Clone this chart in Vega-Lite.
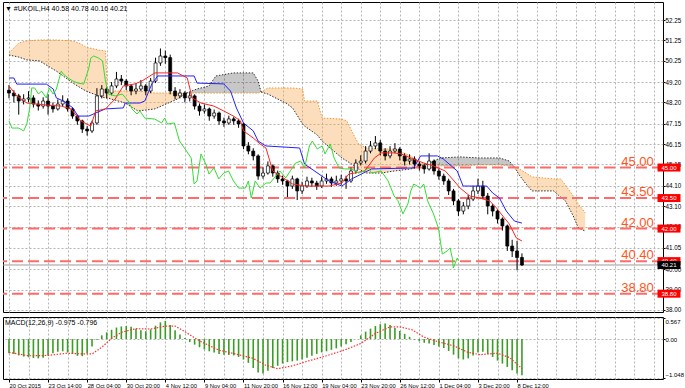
{
"$schema": "https://vega.github.io/schema/vega-lite/v6.json",
"background": "#ffffff",
"padding": {"left": 1, "top": 1, "right": 0, "bottom": 0},
"spacing": 2,
"config": {
  "font": "Liberation Sans",
  "view": {"stroke": "#000000", "strokeWidth": 1},
  "axis": {"gridColor": "#b4b4b4", "gridDash": [2, 2], "gridWidth": 1, "labelFont": "Liberation Sans", "labelFontSize": 6.3, "labelColor": "#000000", "tickColor": "#000000", "tickSize": 2, "domain": false, "labelOverlap": false},
  "title": {"font": "Liberation Sans", "fontSize": 7, "fontWeight": "normal", "color": "#000000"}
},
"datasets": {
  "candles": [
{"t":0,"o":48.80,"h":49.05,"l":48.40,"c":48.66},{"t":2,"o":48.66,"h":48.80,"l":48.20,"c":48.52},{"t":4,"o":48.52,"h":48.62,"l":47.60,"c":48.27},{"t":6,"o":48.27,"h":48.60,"l":48.10,"c":48.37},{"t":8,"o":48.37,"h":48.75,"l":48.20,"c":48.42},{"t":10,"o":48.42,"h":48.55,"l":47.95,"c":48.12},{"t":12,"o":48.12,"h":48.30,"l":47.80,"c":48.02},{"t":14,"o":48.02,"h":48.45,"l":47.90,"c":48.27},{"t":16,"o":48.27,"h":48.60,"l":47.60,"c":48.02},{"t":18,"o":48.02,"h":48.20,"l":47.70,"c":47.88},{"t":20,"o":47.88,"h":48.35,"l":47.80,"c":48.12},{"t":22,"o":48.12,"h":48.55,"l":48.00,"c":48.27},{"t":24,"o":48.27,"h":48.40,"l":47.75,"c":47.88},{"t":26,"o":47.88,"h":47.95,"l":47.40,"c":47.53},{"t":28,"o":47.53,"h":47.60,"l":47.10,"c":47.29},{"t":30,"o":47.29,"h":47.35,"l":46.70,"c":46.89},{"t":32,"o":46.89,"h":47.05,"l":46.57,"c":46.80},{"t":34,"o":46.80,"h":47.30,"l":46.70,"c":47.19},{"t":36,"o":47.19,"h":48.90,"l":47.10,"c":48.52},{"t":38,"o":48.52,"h":49.05,"l":48.40,"c":48.86},{"t":40,"o":48.86,"h":48.95,"l":48.40,"c":48.66},{"t":42,"o":48.66,"h":49.20,"l":48.55,"c":49.01},{"t":44,"o":49.01,"h":49.70,"l":48.90,"c":49.35},{"t":46,"o":49.35,"h":49.55,"l":49.05,"c":49.25},{"t":48,"o":49.25,"h":49.35,"l":48.80,"c":49.01},{"t":50,"o":49.01,"h":49.10,"l":48.55,"c":48.76},{"t":52,"o":48.76,"h":49.15,"l":48.60,"c":48.86},{"t":54,"o":48.86,"h":49.30,"l":48.75,"c":49.01},{"t":56,"o":49.01,"h":49.10,"l":48.55,"c":48.76},{"t":58,"o":48.76,"h":49.40,"l":48.65,"c":49.25},{"t":60,"o":49.25,"h":50.40,"l":49.15,"c":50.14},{"t":62,"o":50.14,"h":50.85,"l":50.00,"c":50.48},{"t":64,"o":50.48,"h":50.75,"l":50.10,"c":50.40},{"t":66,"o":50.40,"h":50.55,"l":48.60,"c":48.76},{"t":68,"o":48.76,"h":48.95,"l":48.35,"c":48.52},{"t":70,"o":48.52,"h":48.85,"l":48.40,"c":48.66},{"t":72,"o":48.66,"h":48.75,"l":48.20,"c":48.42},{"t":74,"o":48.42,"h":48.70,"l":48.25,"c":48.52},{"t":76,"o":48.52,"h":48.60,"l":47.85,"c":48.02},{"t":78,"o":48.02,"h":48.15,"l":47.55,"c":47.78},{"t":80,"o":47.78,"h":48.10,"l":47.65,"c":47.88},{"t":82,"o":47.88,"h":47.95,"l":47.30,"c":47.53},{"t":84,"o":47.53,"h":47.85,"l":47.40,"c":47.68},{"t":86,"o":47.68,"h":47.75,"l":47.10,"c":47.29},{"t":88,"o":47.29,"h":47.45,"l":47.00,"c":47.19},{"t":90,"o":47.19,"h":47.55,"l":47.10,"c":47.39},{"t":92,"o":47.39,"h":47.50,"l":47.10,"c":47.29},{"t":94,"o":47.29,"h":47.40,"l":46.95,"c":47.14},{"t":96,"o":47.14,"h":47.20,"l":45.90,"c":46.06},{"t":98,"o":46.06,"h":46.25,"l":45.65,"c":45.81},{"t":100,"o":45.81,"h":45.95,"l":45.35,"c":45.57},{"t":102,"o":45.57,"h":45.65,"l":44.40,"c":44.58},{"t":104,"o":44.58,"h":45.00,"l":44.45,"c":44.73},{"t":106,"o":44.73,"h":45.30,"l":44.65,"c":45.08},{"t":108,"o":45.08,"h":45.15,"l":44.55,"c":44.73},{"t":110,"o":44.73,"h":44.85,"l":44.25,"c":44.44},{"t":112,"o":44.44,"h":44.60,"l":44.15,"c":44.34},{"t":114,"o":44.34,"h":44.40,"l":43.55,"c":44.09},{"t":116,"o":44.09,"h":44.60,"l":43.95,"c":44.44},{"t":118,"o":44.44,"h":44.50,"l":43.40,"c":43.85},{"t":120,"o":43.85,"h":44.30,"l":43.70,"c":44.09},{"t":122,"o":44.09,"h":44.55,"l":44.00,"c":44.34},{"t":124,"o":44.34,"h":44.50,"l":44.05,"c":44.24},{"t":126,"o":44.24,"h":44.35,"l":43.90,"c":44.09},{"t":128,"o":44.09,"h":44.55,"l":44.00,"c":44.34},{"t":130,"o":44.34,"h":44.70,"l":44.20,"c":44.44},{"t":132,"o":44.44,"h":44.55,"l":44.05,"c":44.24},{"t":134,"o":44.24,"h":44.60,"l":44.10,"c":44.34},{"t":136,"o":44.34,"h":44.65,"l":44.15,"c":44.44},{"t":138,"o":44.44,"h":44.60,"l":43.95,"c":44.34},{"t":140,"o":44.34,"h":45.00,"l":44.25,"c":44.83},{"t":142,"o":44.83,"h":45.40,"l":44.70,"c":45.22},{"t":144,"o":45.22,"h":45.60,"l":45.10,"c":45.32},{"t":146,"o":45.32,"h":46.05,"l":45.20,"c":45.81},{"t":148,"o":45.81,"h":46.30,"l":45.70,"c":46.06},{"t":150,"o":46.06,"h":46.55,"l":45.90,"c":46.21},{"t":152,"o":46.21,"h":46.35,"l":45.60,"c":45.81},{"t":154,"o":45.81,"h":45.95,"l":45.35,"c":45.57},{"t":156,"o":45.57,"h":46.05,"l":45.45,"c":45.81},{"t":158,"o":45.81,"h":46.20,"l":45.70,"c":45.91},{"t":160,"o":45.91,"h":46.00,"l":45.35,"c":45.57},{"t":162,"o":45.57,"h":45.70,"l":45.10,"c":45.32},{"t":164,"o":45.32,"h":45.65,"l":45.15,"c":45.42},{"t":166,"o":45.42,"h":45.55,"l":44.95,"c":45.17},{"t":168,"o":45.17,"h":45.30,"l":44.85,"c":45.08},{"t":170,"o":45.08,"h":45.20,"l":44.70,"c":44.93},{"t":172,"o":44.93,"h":45.70,"l":44.85,"c":45.32},{"t":174,"o":45.32,"h":45.40,"l":44.65,"c":44.83},{"t":176,"o":44.83,"h":44.95,"l":44.40,"c":44.58},{"t":178,"o":44.58,"h":44.70,"l":44.15,"c":44.34},{"t":180,"o":44.34,"h":44.45,"l":43.65,"c":43.85},{"t":182,"o":43.85,"h":43.95,"l":43.15,"c":43.36},{"t":184,"o":43.36,"h":43.45,"l":42.62,"c":42.86},{"t":186,"o":42.86,"h":43.30,"l":42.70,"c":43.11},{"t":188,"o":43.11,"h":43.65,"l":42.95,"c":43.45},{"t":190,"o":43.45,"h":44.10,"l":43.35,"c":43.85},{"t":192,"o":43.85,"h":44.45,"l":43.70,"c":44.09},{"t":194,"o":44.09,"h":44.35,"l":43.45,"c":43.60},{"t":196,"o":43.60,"h":43.75,"l":42.70,"c":43.11},{"t":198,"o":43.11,"h":43.20,"l":42.60,"c":42.86},{"t":200,"o":42.86,"h":42.95,"l":42.25,"c":42.47},{"t":202,"o":42.47,"h":42.55,"l":41.90,"c":42.13},{"t":204,"o":42.13,"h":42.20,"l":40.90,"c":41.14},{"t":206,"o":41.14,"h":41.45,"l":40.60,"c":40.90},{"t":208,"o":40.90,"h":41.40,"l":39.95,"c":40.58},{"t":210,"o":40.58,"h":40.78,"l":40.16,"c":40.21}
  ],
  "tenkan": [
{"t":0,"p":49.01},{"t":3.2,"p":48.52},{"t":7.3,"p":48.17},{"t":15.3,"p":48.07},{"t":21.4,"p":48.02},{"t":25.4,"p":47.88},{"t":29.4,"p":47.29},{"t":33.5,"p":47.04},{"t":35.5,"p":47.78},{"t":39.5,"p":47.88},{"t":43.5,"p":48.37},{"t":46.8,"p":49.01},{"t":51.6,"p":49.11},{"t":54.4,"p":49.25},{"t":59.7,"p":49.65},{"t":69,"p":49.65},{"t":73,"p":49.40},{"t":75,"p":48.42},{"t":78.6,"p":48.17},{"t":83.9,"p":48.02},{"t":87.9,"p":47.78},{"t":91.9,"p":47.53},{"t":94.8,"p":47.29},{"t":96,"p":46.80},{"t":100,"p":46.45},{"t":102.8,"p":46.16},{"t":105.2,"p":45.96},{"t":108,"p":44.83},{"t":116.1,"p":44.19},{"t":121.4,"p":44.09},{"t":131,"p":44.09},{"t":136.3,"p":44.24},{"t":139.1,"p":44.68},{"t":141.5,"p":44.73},{"t":145.6,"p":44.83},{"t":149.6,"p":45.47},{"t":152.4,"p":45.72},{"t":157.7,"p":45.72},{"t":160.5,"p":45.67},{"t":164.5,"p":45.47},{"t":169.8,"p":45.22},{"t":173.8,"p":45.08},{"t":178.6,"p":44.83},{"t":181.5,"p":44.44},{"t":184.7,"p":43.99},{"t":188.7,"p":43.60},{"t":192.7,"p":43.50},{"t":196.8,"p":43.36},{"t":199.6,"p":43.01},{"t":202.8,"p":42.52},{"t":204.8,"p":42.23},{"t":207.7,"p":41.54},{"t":210,"p":41.39}
  ],
  "kijun": [
{"t":0,"p":49.40},{"t":2,"p":49.40},{"t":3.2,"p":49.10},{"t":15.3,"p":49.10},{"t":18.1,"p":48.86},{"t":19.4,"p":48.42},{"t":22.2,"p":48.27},{"t":26.2,"p":47.93},{"t":28.2,"p":47.53},{"t":32.7,"p":47.53},{"t":35.5,"p":47.68},{"t":39.5,"p":47.88},{"t":46.8,"p":47.93},{"t":47.6,"p":48.17},{"t":53.6,"p":48.17},{"t":55.6,"p":48.27},{"t":58.5,"p":49.11},{"t":60.9,"p":49.50},{"t":75.8,"p":49.50},{"t":77,"p":49.15},{"t":87.9,"p":49.11},{"t":90.7,"p":48.76},{"t":93.1,"p":47.93},{"t":96,"p":47.19},{"t":100,"p":46.80},{"t":102,"p":46.30},{"t":105.2,"p":46.06},{"t":119,"p":45.96},{"t":121,"p":45.17},{"t":131,"p":44.34},{"t":136.3,"p":44.09},{"t":140.3,"p":44.44},{"t":148.4,"p":44.93},{"t":165.7,"p":44.98},{"t":168.5,"p":45.57},{"t":175.4,"p":45.57},{"t":177.8,"p":45.42},{"t":183.5,"p":44.83},{"t":185.9,"p":44.09},{"t":195.6,"p":44.09},{"t":198,"p":43.75},{"t":200.8,"p":43.50},{"t":203.6,"p":42.86},{"t":206.9,"p":42.37},{"t":210,"p":42.27}
  ],
  "chikou": [
{"t":0,"p":47.29},{"t":1.2,"p":46.94},{"t":4,"p":46.94},{"t":6,"p":46.80},{"t":7.3,"p":47.14},{"t":8.5,"p":47.93},{"t":9.3,"p":48.91},{"t":10.5,"p":48.91},{"t":12.1,"p":48.61},{"t":13.3,"p":48.76},{"t":15.3,"p":48.42},{"t":16.5,"p":48.91},{"t":18.1,"p":48.61},{"t":19.4,"p":48.86},{"t":21.4,"p":49.74},{"t":22.2,"p":49.60},{"t":24.2,"p":49.40},{"t":26.2,"p":49.25},{"t":28.2,"p":49.15},{"t":30.6,"p":49.10},{"t":32.7,"p":49.89},{"t":33.5,"p":50.38},{"t":34.7,"p":50.48},{"t":36.7,"p":50.38},{"t":38.3,"p":50.24},{"t":39.5,"p":49.25},{"t":40.7,"p":48.61},{"t":43.5,"p":48.52},{"t":46.4,"p":48.61},{"t":48.8,"p":48.27},{"t":50.4,"p":47.88},{"t":52.4,"p":47.63},{"t":53.6,"p":47.78},{"t":55.6,"p":47.43},{"t":59.7,"p":47.38},{"t":62.5,"p":47.19},{"t":63.7,"p":47.43},{"t":64.9,"p":47.14},{"t":67.7,"p":47.19},{"t":69.8,"p":46.30},{"t":71.8,"p":45.96},{"t":74.6,"p":45.47},{"t":75.8,"p":44.19},{"t":77,"p":44.34},{"t":78.6,"p":45.67},{"t":80.6,"p":45.17},{"t":81.9,"p":44.68},{"t":83.9,"p":44.98},{"t":85.9,"p":44.44},{"t":87.9,"p":44.73},{"t":89.9,"p":44.83},{"t":91.9,"p":44.34},{"t":94,"p":43.99},{"t":96.8,"p":43.99},{"t":98,"p":44.34},{"t":99.2,"p":43.50},{"t":100.8,"p":44.34},{"t":102.8,"p":43.99},{"t":105.2,"p":44.24},{"t":106.9,"p":44.24},{"t":110.9,"p":44.83},{"t":113.3,"p":44.49},{"t":117.3,"p":45.22},{"t":119.4,"p":45.32},{"t":121,"p":44.98},{"t":123,"p":46.06},{"t":124.2,"p":46.30},{"t":126.2,"p":45.91},{"t":128.2,"p":46.06},{"t":129.4,"p":45.67},{"t":131.5,"p":46.16},{"t":133.1,"p":45.47},{"t":135.1,"p":44.98},{"t":137.5,"p":44.93},{"t":140.3,"p":44.93},{"t":143.1,"p":44.73},{"t":145.6,"p":44.83},{"t":147.2,"p":44.98},{"t":148.4,"p":44.73},{"t":152.4,"p":44.83},{"t":155.2,"p":44.34},{"t":157.7,"p":43.60},{"t":159.3,"p":43.36},{"t":161.3,"p":42.72},{"t":163.3,"p":43.21},{"t":164.5,"p":43.85},{"t":165.7,"p":44.19},{"t":168.5,"p":43.99},{"t":169.8,"p":44.19},{"t":171.4,"p":43.36},{"t":173.8,"p":42.72},{"t":175.8,"p":42.03},{"t":177.4,"p":40.75},{"t":179.4,"p":40.90},{"t":180.6,"p":41.05},{"t":181.5,"p":40.55},{"t":181.9,"p":40.06},{"t":183.5,"p":40.55},{"t":184,"p":40.41}
  ],
  "cloud": [
{"t":0,"a":50.63,"b":50.53,"seg":1,"kind":"up"},{"t":4,"a":51.12,"b":50.43,"seg":1,"kind":"up"},{"t":7.3,"a":51.22,"b":50.29,"seg":1,"kind":"up"},{"t":12.5,"a":51.27,"b":50.24,"seg":1,"kind":"up"},{"t":19.4,"a":51.27,"b":49.74,"seg":1,"kind":"up"},{"t":26.2,"a":51.22,"b":49.15,"seg":1,"kind":"up"},{"t":29.4,"a":51.07,"b":48.91,"seg":1,"kind":"up"},{"t":31.5,"a":50.92,"b":48.76,"seg":1,"kind":"up"},{"t":36.7,"a":50.77,"b":48.52,"seg":1,"kind":"up"},{"t":39.5,"a":50.73,"b":48.42,"seg":1,"kind":"up"},{"t":40.3,"a":48.76,"b":48.42,"seg":1,"kind":"up"},{"t":47.6,"a":48.76,"b":48.17,"seg":1,"kind":"up"},{"t":52.8,"a":48.76,"b":47.78,"seg":1,"kind":"up"},{"t":59.7,"a":48.66,"b":47.88,"seg":1,"kind":"up"},{"t":69,"a":48.66,"b":48.37,"seg":1,"kind":"up"},{"t":72.6,"a":48.66,"b":48.66,"seg":1,"kind":"up"},
{"t":72.6,"a":48.66,"b":48.66,"seg":2,"kind":"dn"},{"t":77,"a":48.66,"b":48.86,"seg":2,"kind":"dn"},{"t":81.9,"a":48.66,"b":49.01,"seg":2,"kind":"dn"},{"t":84.7,"a":48.66,"b":49.50,"seg":2,"kind":"dn"},{"t":91.9,"a":48.66,"b":49.65,"seg":2,"kind":"dn"},{"t":100,"a":48.66,"b":49.65,"seg":2,"kind":"dn"},{"t":102,"a":48.66,"b":49.25,"seg":2,"kind":"dn"},{"t":103.2,"a":48.71,"b":48.71,"seg":2,"kind":"dn"},
{"t":103.2,"a":48.71,"b":48.71,"seg":3,"kind":"up"},{"t":106,"a":48.91,"b":48.61,"seg":3,"kind":"up"},{"t":113.3,"a":48.91,"b":48.17,"seg":3,"kind":"up"},{"t":116.1,"a":48.91,"b":47.93,"seg":3,"kind":"up"},{"t":120.2,"a":48.86,"b":47.14,"seg":3,"kind":"up"},{"t":121,"a":48.27,"b":47.04,"seg":3,"kind":"up"},{"t":126.2,"a":48.27,"b":46.60,"seg":3,"kind":"up"},{"t":128.2,"a":47.43,"b":46.30,"seg":3,"kind":"up"},{"t":136.3,"a":47.38,"b":45.47,"seg":3,"kind":"up"},{"t":138.3,"a":47.29,"b":45.32,"seg":3,"kind":"up"},{"t":140.3,"a":46.80,"b":45.17,"seg":3,"kind":"up"},{"t":143.1,"a":46.16,"b":44.93,"seg":3,"kind":"up"},{"t":146.4,"a":45.96,"b":44.73,"seg":3,"kind":"up"},{"t":152.4,"a":45.91,"b":44.73,"seg":3,"kind":"up"},{"t":157.7,"a":45.91,"b":44.83,"seg":3,"kind":"up"},{"t":164.5,"a":45.57,"b":44.93,"seg":3,"kind":"up"},{"t":168.5,"a":45.22,"b":45.08,"seg":3,"kind":"up"},{"t":170.6,"a":45.13,"b":45.13,"seg":3,"kind":"up"},
{"t":170.6,"a":45.13,"b":45.13,"seg":4,"kind":"dn"},{"t":176.6,"a":45.08,"b":45.47,"seg":4,"kind":"dn"},{"t":184.7,"a":45.08,"b":45.52,"seg":4,"kind":"dn"},{"t":192.7,"a":45.13,"b":45.47,"seg":4,"kind":"dn"},{"t":200.8,"a":45.13,"b":45.47,"seg":4,"kind":"dn"},{"t":204.8,"a":45.08,"b":45.32,"seg":4,"kind":"dn"},{"t":206.9,"a":45.03,"b":45.03,"seg":4,"kind":"dn"},
{"t":206.9,"a":45.03,"b":45.03,"seg":5,"kind":"up"},{"t":208.9,"a":44.93,"b":44.63,"seg":5,"kind":"up"},{"t":211.7,"a":44.73,"b":44.19,"seg":5,"kind":"up"},{"t":214.1,"a":44.54,"b":43.85,"seg":5,"kind":"up"},{"t":223,"a":44.44,"b":43.85,"seg":5,"kind":"up"},{"t":225.8,"a":44.44,"b":43.55,"seg":5,"kind":"up"},{"t":227.8,"a":44.14,"b":43.36,"seg":5,"kind":"up"},{"t":231,"a":43.60,"b":42.62,"seg":5,"kind":"up"},{"t":233.1,"a":43.21,"b":42.03,"seg":5,"kind":"up"},{"t":235.9,"a":42.77,"b":41.88,"seg":5,"kind":"up"}
  ],
  "levels": [{"lv":45.00,"label":"45.00"},{"lv":43.50,"label":"43.50"},{"lv":42.00,"label":"42.00"},{"lv":40.40,"label":"40.40"},{"lv":38.80,"label":"38.80"}],
  "cur": [{"p":40.21,"label":"40.21"}],
  "macd": [
{"t":0,"m":-0.38},{"t":2,"m":-0.40},{"t":4,"m":-0.44},{"t":6,"m":-0.47},{"t":8,"m":-0.49},{"t":10,"m":-0.51},{"t":12,"m":-0.52},{"t":14,"m":-0.50},{"t":16,"m":-0.44},{"t":18,"m":-0.38},{"t":20,"m":-0.34},{"t":22,"m":-0.33},{"t":24,"m":-0.36},{"t":26,"m":-0.40},{"t":28,"m":-0.45},{"t":30,"m":-0.46},{"t":32,"m":-0.38},{"t":34,"m":-0.20},{"t":36,"m":-0.02},{"t":38,"m":0.10},{"t":40,"m":0.18},{"t":42,"m":0.25},{"t":44,"m":0.31},{"t":46,"m":0.34},{"t":48,"m":0.35},{"t":50,"m":0.33},{"t":52,"m":0.28},{"t":54,"m":0.24},{"t":56,"m":0.21},{"t":58,"m":0.26},{"t":60,"m":0.36},{"t":62,"m":0.45},{"t":64,"m":0.49},{"t":66,"m":0.38},{"t":68,"m":0.24},{"t":70,"m":0.12},{"t":72,"m":0.03},{"t":74,"m":-0.08},{"t":76,"m":-0.15},{"t":78,"m":-0.22},{"t":80,"m":-0.28},{"t":82,"m":-0.33},{"t":84,"m":-0.36},{"t":86,"m":-0.40},{"t":88,"m":-0.42},{"t":90,"m":-0.43},{"t":92,"m":-0.44},{"t":94,"m":-0.48},{"t":96,"m":-0.55},{"t":98,"m":-0.64},{"t":100,"m":-0.78},{"t":102,"m":-0.90},{"t":104,"m":-0.93},{"t":106,"m":-0.85},{"t":108,"m":-0.78},{"t":110,"m":-0.72},{"t":112,"m":-0.66},{"t":114,"m":-0.62},{"t":116,"m":-0.60},{"t":118,"m":-0.58},{"t":120,"m":-0.55},{"t":122,"m":-0.50},{"t":124,"m":-0.45},{"t":126,"m":-0.40},{"t":128,"m":-0.36},{"t":130,"m":-0.33},{"t":132,"m":-0.29},{"t":134,"m":-0.25},{"t":136,"m":-0.20},{"t":138,"m":-0.14},{"t":140,"m":-0.08},{"t":142,"m":0.00},{"t":144,"m":0.10},{"t":146,"m":0.20},{"t":148,"m":0.28},{"t":150,"m":0.35},{"t":152,"m":0.40},{"t":154,"m":0.42},{"t":156,"m":0.38},{"t":158,"m":0.30},{"t":160,"m":0.22},{"t":162,"m":0.14},{"t":164,"m":0.06},{"t":166,"m":-0.02},{"t":168,"m":-0.06},{"t":170,"m":-0.10},{"t":172,"m":-0.12},{"t":174,"m":-0.16},{"t":176,"m":-0.20},{"t":178,"m":-0.24},{"t":180,"m":-0.32},{"t":182,"m":-0.42},{"t":184,"m":-0.52},{"t":186,"m":-0.55},{"t":188,"m":-0.52},{"t":190,"m":-0.44},{"t":192,"m":-0.36},{"t":194,"m":-0.34},{"t":196,"m":-0.40},{"t":198,"m":-0.48},{"t":200,"m":-0.58},{"t":202,"m":-0.66},{"t":204,"m":-0.75},{"t":206,"m":-0.84},{"t":208,"m":-0.93},{"t":210,"m":-0.975}
  ],
  "signal": [
{"t":0,"s":-0.36},{"t":8,"s":-0.45},{"t":16,"s":-0.44},{"t":24,"s":-0.38},{"t":30,"s":-0.40},{"t":34,"s":-0.40},{"t":38,"s":-0.22},{"t":42,"s":0.02},{"t":46,"s":0.18},{"t":52,"s":0.28},{"t":58,"s":0.27},{"t":64,"s":0.35},{"t":68,"s":0.35},{"t":72,"s":0.20},{"t":78,"s":-0.05},{"t":86,"s":-0.30},{"t":94,"s":-0.42},{"t":100,"s":-0.52},{"t":105,"s":-0.70},{"t":110,"s":-0.80},{"t":116,"s":-0.72},{"t":122,"s":-0.60},{"t":130,"s":-0.45},{"t":138,"s":-0.28},{"t":144,"s":-0.12},{"t":150,"s":0.15},{"t":156,"s":0.33},{"t":160,"s":0.33},{"t":165,"s":0.25},{"t":170,"s":0.05},{"t":176,"s":-0.08},{"t":182,"s":-0.18},{"t":188,"s":-0.36},{"t":193,"s":-0.42},{"t":200,"s":-0.38},{"t":205,"s":-0.50},{"t":210,"s":-0.796}
  ]
},
"vconcat": [
  {
    "width": 660,
    "height": 310,
    "title": {"text": "▼ #UKOIL,H4 40.58 40.78 40.16 40.21", "anchor": "start", "frame": "group", "offset": -10, "dx": 2},
    "layer": [
      {
        "data": {"name": "cloud"},
        "mark": {"type": "area", "interpolate": "linear"},
        "encoding": {
          "x": {"field": "t", "type": "quantitative", "scale": {"domain": [-0.4, 265.7], "nice": false, "zero": false},
                "axis": {"values": [0,8,16,24,32,40,48,56,64,72,80,88,96,104,112,120,128,136,144,152,160,168,176,184,192,200,208,216,224,232,240,248,256,264], "tickCount": 100, "grid": true, "labels": false, "ticks": false, "title": null}},
          "y": {"field": "a", "type": "quantitative", "scale": {"domain": [37.9, 53.135], "nice": false, "zero": false},
                "axis": {"orient": "right", "values": [38, 39, 40, 41.05, 42.1, 43.1, 44.1, 45.15, 46.15, 47.15, 48.2, 49.2, 50.25, 51.25, 52.25], "tickCount": 100, "format": ".2f", "grid": true, "labelPadding": 0, "labelOverlap": false, "title": null}},
          "y2": {"field": "b"},
          "detail": {"field": "seg"},
          "color": {"field": "kind", "type": "nominal", "scale": {"domain": ["up", "dn"], "range": ["rgba(247,165,80,0.38)", "rgba(0,0,0,0.22)"]}, "legend": null}
        }
      },
      {
        "data": {"name": "cloud"},
        "mark": {"type": "line", "color": "#ee9a3a", "strokeWidth": 1, "strokeDash": [1.5, 1.5]},
        "encoding": {
          "x": {"field": "t", "type": "quantitative", "axis": {"title": null}},
          "y": {"field": "a", "type": "quantitative", "axis": {"title": null}},
          "detail": {"field": "seg"}
        }
      },
      {
        "data": {"name": "cloud"},
        "mark": {"type": "line", "color": "#333333", "strokeWidth": 1, "strokeDash": [1.5, 1.5]},
        "encoding": {
          "x": {"field": "t", "type": "quantitative", "axis": {"title": null}},
          "y": {"field": "b", "type": "quantitative", "axis": {"title": null}},
          "detail": {"field": "seg"}
        }
      },
      {
        "data": {"name": "levels"},
        "mark": {"type": "rule", "color": "#ff6b6b", "strokeWidth": 2, "strokeDash": [11, 5]},
        "encoding": {"y": {"field": "lv", "type": "quantitative", "axis": {"title": null}}}
      },
      {
        "data": {"name": "cur"},
        "mark": {"type": "rule", "color": "#9a9a9a", "strokeWidth": 1},
        "encoding": {"y": {"field": "p", "type": "quantitative", "axis": {"title": null}}}
      },
      {
        "data": {"name": "candles"},
        "mark": {"type": "rule", "color": "#000000", "strokeWidth": 1},
        "encoding": {
          "x": {"field": "t", "type": "quantitative", "axis": {"title": null}},
          "y": {"field": "l", "type": "quantitative", "axis": {"title": null}},
          "y2": {"field": "h"}
        }
      },
      {
        "data": {"name": "candles"},
        "mark": {"type": "bar", "width": 3, "stroke": "#000000", "strokeWidth": 0.7},
        "encoding": {
          "x": {"field": "t", "type": "quantitative", "axis": {"title": null}},
          "y": {"field": "o", "type": "quantitative", "axis": {"title": null}},
          "y2": {"field": "c"},
          "fill": {"condition": {"test": "datum.c >= datum.o", "value": "#ffffff"}, "value": "#000000"}
        }
      },
      {
        "data": {"name": "kijun"},
        "mark": {"type": "line", "color": "#2222ff", "strokeWidth": 1},
        "encoding": {
          "x": {"field": "t", "type": "quantitative", "axis": {"title": null}},
          "y": {"field": "p", "type": "quantitative", "axis": {"title": null}}
        }
      },
      {
        "data": {"name": "tenkan"},
        "mark": {"type": "line", "color": "#ff2222", "strokeWidth": 1},
        "encoding": {
          "x": {"field": "t", "type": "quantitative", "axis": {"title": null}},
          "y": {"field": "p", "type": "quantitative", "axis": {"title": null}}
        }
      },
      {
        "data": {"name": "chikou"},
        "mark": {"type": "line", "color": "#33dd33", "strokeWidth": 1},
        "encoding": {
          "x": {"field": "t", "type": "quantitative", "axis": {"title": null}},
          "y": {"field": "p", "type": "quantitative", "axis": {"title": null}}
        }
      },
      {
        "data": {"name": "levels"},
        "mark": {"type": "text", "align": "right", "baseline": "alphabetic", "dy": -2, "font": "Liberation Sans", "fontSize": 13, "color": "#ff5522"},
        "encoding": {
          "x": {"datum": 264, "axis": {"title": null}},
          "y": {"field": "lv", "type": "quantitative", "axis": {"title": null}},
          "text": {"field": "label"}
        }
      },
      {
        "data": {"name": "levels"},
        "mark": {"type": "tick", "orient": "horizontal", "size": 23, "thickness": 8, "color": "#ff0000", "opacity": 1},
        "encoding": {
          "x": {"datum": 270.2, "axis": {"title": null}},
          "y": {"field": "lv", "type": "quantitative", "axis": {"title": null}}
        }
      },
      {
        "data": {"name": "levels"},
        "mark": {"type": "text", "align": "center", "baseline": "middle", "fontSize": 6, "color": "#ffffff"},
        "encoding": {
          "x": {"datum": 270.2, "axis": {"title": null}},
          "y": {"field": "lv", "type": "quantitative", "axis": {"title": null}},
          "text": {"field": "label"}
        }
      },
      {
        "data": {"name": "cur"},
        "mark": {"type": "tick", "orient": "horizontal", "size": 23, "thickness": 8, "color": "#000000", "opacity": 1},
        "encoding": {
          "x": {"datum": 270.2, "axis": {"title": null}},
          "y": {"field": "p", "type": "quantitative", "axis": {"title": null}}
        }
      },
      {
        "data": {"name": "cur"},
        "mark": {"type": "text", "align": "center", "baseline": "middle", "fontSize": 6, "color": "#ffffff"},
        "encoding": {
          "x": {"datum": 270.2, "axis": {"title": null}},
          "y": {"field": "p", "type": "quantitative", "axis": {"title": null}},
          "text": {"field": "label"}
        }
      }
    ]
  },
  {
    "width": 660,
    "height": 62,
    "title": {"text": "MACD(12,26,9) -0.975 -0.796", "anchor": "start", "frame": "group", "offset": -9, "dx": 2},
    "layer": [
      {
        "data": {"name": "macd"},
        "mark": {"type": "bar", "width": 1.6, "color": "#3a9d23"},
        "encoding": {
          "x": {"field": "t", "type": "quantitative", "scale": {"domain": [-0.4, 265.7], "nice": false, "zero": false},
                "axis": {"values": [0,8,16,24,32,40,48,56,64,72,80,88,96,104,112,120,128,136,144,152,160,168,176,184,192,200,208,216,224,232,240,248,256,264], "tickCount": 100, "grid": true, "labelAlign": "left", "labelBaseline": "top", "labelPadding": 0, "labelOverlap": false, "labelFlush": false, "labelFontSize": 5.8, "tickSize": 3,
                         "tickOpacity": {"condition": {"test": "datum.value % 16 == 0 && datum.value <= 208", "value": 1}, "value": 0},
                         "labelExpr": "datum.value % 16 == 0 && datum.value <= 208 ? ['20 Oct 2015','23 Oct 14:00','28 Oct 04:00','30 Oct 20:00','4 Nov 12:00','9 Nov 04:00','11 Nov 20:00','16 Nov 12:00','19 Nov 04:00','23 Nov 20:00','26 Nov 12:00','1 Dec 04:00','3 Dec 20:00','8 Dec 12:00'][datum.value / 16] : ''",
                         "title": null}},
          "y": {"field": "m", "type": "quantitative", "scale": {"domain": [-1.075, 0.594], "nice": false, "zero": false},
                "axis": {"orient": "right", "values": [0.567, 0, -1.048], "tickCount": 100, "grid": true, "labelFlush": 4, "labelPadding": 0, "labelFontSize": 6,
                         "labelExpr": "datum.value == 0 ? '0.00' : format(datum.value, '.3f')", "title": null}},
          "y2": {"datum": 0}
        }
      },
      {
        "data": {"name": "signal"},
        "mark": {"type": "line", "color": "#ff3030", "strokeWidth": 1.2, "strokeDash": [1.5, 1.5]},
        "encoding": {
          "x": {"field": "t", "type": "quantitative", "axis": {"title": null}},
          "y": {"field": "s", "type": "quantitative", "axis": {"title": null}}
        }
      }
    ]
  }
]
}
